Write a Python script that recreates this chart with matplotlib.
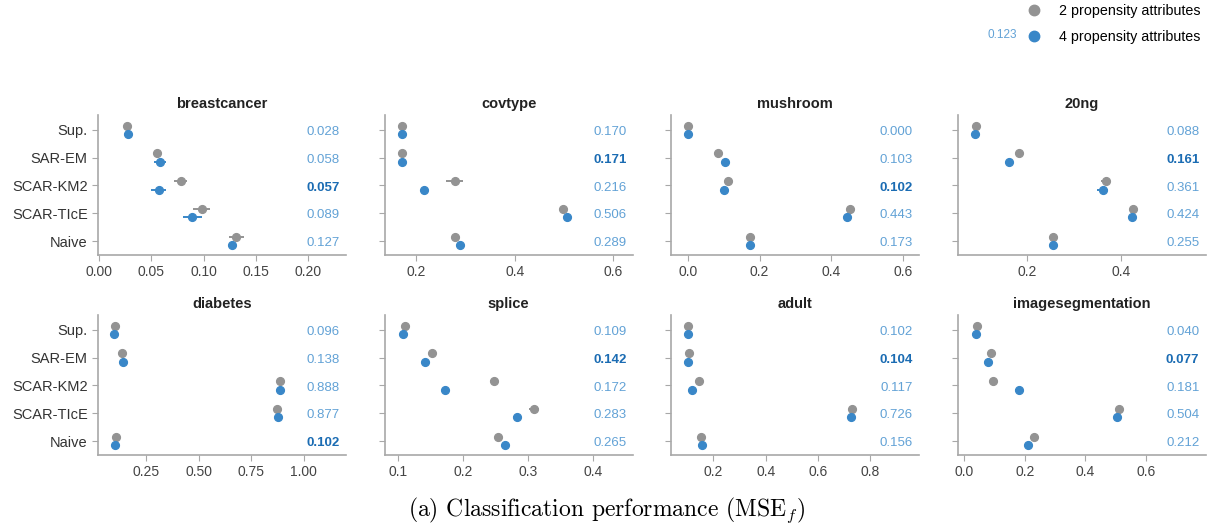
import numpy as np
import matplotlib
matplotlib.use("Agg")
import matplotlib.pyplot as plt
from matplotlib.lines import Line2D
from matplotlib.ticker import FormatStrFormatter
import matplotlib.transforms as mtransforms

datasets = ["breastcancer", "covtype", "mushroom", "20ng",
            "diabetes", "splice", "adult", "imagesegmentation"]
methods = ["Sup.", "SAR-EM", "SCAR-KM2", "SCAR-TIcE", "Naive"]

# mean MSE_f, rows follow `datasets`, columns follow `methods`
mse_2attr = [
    [0.027, 0.055, 0.078, 0.098, 0.131],
    [0.170, 0.170, 0.278, 0.498, 0.278],
    [0.000, 0.084, 0.111, 0.453, 0.172],
    [0.089, 0.182, 0.368, 0.427, 0.254],
    [0.098, 0.135, 0.888, 0.875, 0.104],
    [0.111, 0.153, 0.247, 0.309, 0.254],
    [0.104, 0.105, 0.144, 0.732, 0.154],
    [0.042, 0.088, 0.094, 0.511, 0.232],
]
mse_4attr = [
    [0.028, 0.058, 0.057, 0.089, 0.127],
    [0.170, 0.171, 0.216, 0.506, 0.289],
    [0.000, 0.103, 0.102, 0.443, 0.173],
    [0.088, 0.161, 0.361, 0.424, 0.255],
    [0.096, 0.138, 0.888, 0.877, 0.102],
    [0.109, 0.142, 0.172, 0.283, 0.265],
    [0.102, 0.104, 0.117, 0.726, 0.156],
    [0.040, 0.077, 0.181, 0.504, 0.212],
]
# half-width of the error bars
err_2attr = [
    [0.001, 0.003, 0.006, 0.008, 0.007],
    [0.002, 0.002, 0.017, 0.002, 0.002],
    [0.001, 0.002, 0.002, 0.002, 0.002],
    [0.002, 0.002, 0.010, 0.002, 0.002],
    [0.003, 0.003, 0.003, 0.003, 0.003],
    [0.001, 0.002, 0.006, 0.007, 0.002],
    [0.001, 0.001, 0.002, 0.003, 0.002],
    [0.001, 0.002, 0.002, 0.003, 0.003],
]
err_4attr = [
    [0.001, 0.006, 0.007, 0.009, 0.003],
    [0.002, 0.002, 0.003, 0.003, 0.003],
    [0.001, 0.002, 0.002, 0.002, 0.002],
    [0.002, 0.002, 0.012, 0.002, 0.002],
    [0.003, 0.003, 0.003, 0.003, 0.003],
    [0.001, 0.002, 0.002, 0.006, 0.002],
    [0.001, 0.001, 0.002, 0.003, 0.002],
    [0.001, 0.003, 0.013, 0.003, 0.003],
]

# axis ranges / ticks per panel
x_limits = [(-0.001, 0.236), (0.135, 0.64), (-0.047, 0.645), (0.05, 0.582),
            (0.019, 1.203), (0.08, 0.46), (0.0375, 0.988), (-0.022, 0.797)]
x_ticks = [[0.0, 0.05, 0.10, 0.15, 0.20], [0.2, 0.4, 0.6], [0.0, 0.2, 0.4, 0.6], [0.2, 0.4],
           [0.25, 0.50, 0.75, 1.00], [0.1, 0.2, 0.3, 0.4], [0.2, 0.4, 0.6, 0.8], [0.0, 0.2, 0.4, 0.6]]
x_fmt = ["%.2f", "%.1f", "%.1f", "%.1f", "%.2f", "%.1f", "%.1f", "%.1f"]

GRAY = "#939393"
BLUE = "#3987c8"
LABEL_BLUE = "#62a2d6"
BOLD_BLUE = "#1b6cb3"
SPINE = "#a8a8a8"


def main():
    plt.rcParams["font.family"] = ["Liberation Sans", "DejaVu Sans"]
    plt.rcParams["mathtext.fontset"] = "cm"

    fig = plt.figure(figsize=(12.12, 5.31), dpi=100)
    gs = fig.add_gridspec(2, 4, left=0.0809, right=0.9947, top=0.7834, bottom=0.1431,
                          wspace=0.155, hspace=0.4286)
    ypos = np.arange(len(methods))

    for i, name in enumerate(datasets):
        ax = fig.add_subplot(gs[i // 4, i % 4])
        m2 = np.array(mse_2attr[i])
        m4 = np.array(mse_4attr[i])
        ax.errorbar(m2, ypos - 0.15, xerr=err_2attr[i], fmt="o", color=GRAY,
                    ecolor=GRAY, elinewidth=1.4, markersize=5.6, capsize=0, zorder=3)
        ax.errorbar(m4, ypos + 0.15, xerr=err_4attr[i], fmt="o", color=BLUE,
                    ecolor=BLUE, elinewidth=1.4, markersize=5.6, capsize=0, zorder=3)

        best = int(np.argmin(m4[1:])) + 1
        trans = mtransforms.blended_transform_factory(ax.transAxes, ax.transData)
        for j, v in enumerate(m4):
            ax.text(0.975, j + 0.08, "%.3f" % v, transform=trans, ha="right", va="center",
                    fontsize=9.5, color=BOLD_BLUE if j == best else LABEL_BLUE,
                    fontweight="bold" if j == best else "normal")

        ax.set_ylim(4.5, -0.53)
        ax.set_yticks(ypos)
        if i % 4 == 0:
            ax.set_yticklabels(methods, fontsize=10.5)
        else:
            ax.set_yticklabels([])
        ax.set_xlim(*x_limits[i])
        ax.set_xticks(x_ticks[i])
        ax.xaxis.set_major_formatter(FormatStrFormatter(x_fmt[i]))
        ax.tick_params(axis="x", labelsize=10, color=SPINE, labelcolor="#444444", length=4)
        ax.tick_params(axis="y", color=SPINE, labelcolor="#333333", length=4)
        for s in ["top", "right"]:
            ax.spines[s].set_visible(False)
        for s in ["left", "bottom"]:
            ax.spines[s].set_color(SPINE)
            ax.spines[s].set_linewidth(1.2)
        ax.set_title(name, fontsize=10.5, fontweight="bold", color="#222222", pad=5)

    handles = [
        Line2D([], [], marker="o", linestyle="none", color=GRAY, markersize=7.5),
        Line2D([], [], marker="o", linestyle="none", color=BLUE, markersize=7.5),
    ]
    fig.legend(handles, ["2 propensity attributes", "4 propensity attributes"],
               loc="upper right", bbox_to_anchor=(0.995, 1.004), frameon=False,
               fontsize=10.3, handletextpad=0.75, labelspacing=0.85, borderaxespad=0.0)
    fig.text(0.8395, 0.934, "0.123", color=LABEL_BLUE, fontsize=8.5, ha="right", va="center")

    fig.text(0.5, 0.040, r"(a) Classification performance (MSE$_f$)", ha="center", va="center",
             fontsize=17, fontfamily="cmr10")

    fig.savefig("out.png", dpi=100)


if __name__ == '__main__':
    main()
